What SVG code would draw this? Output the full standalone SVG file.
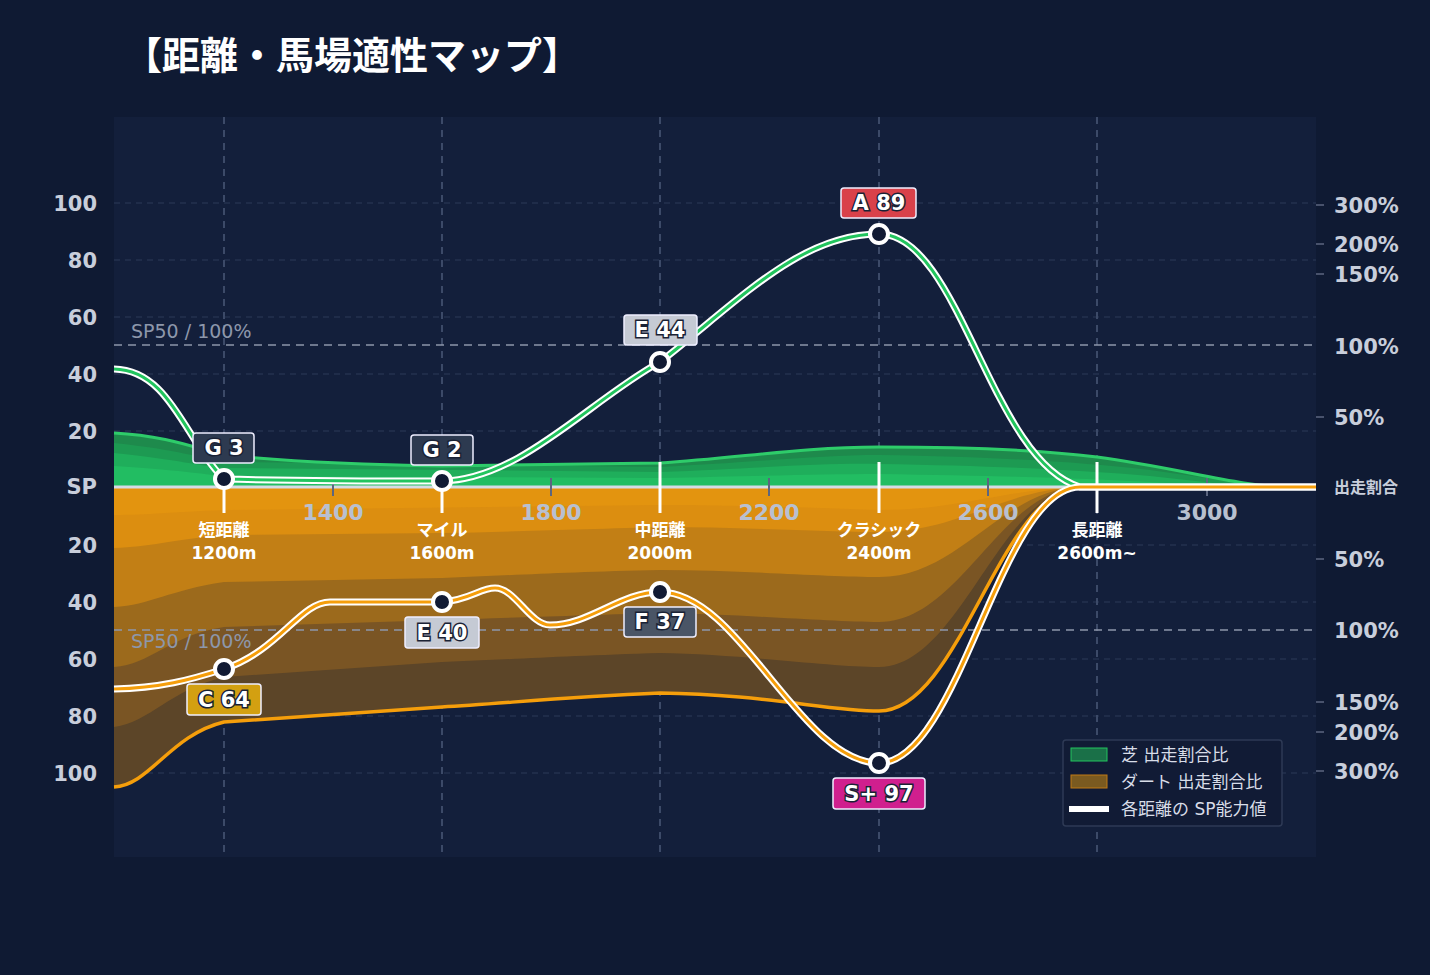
<svg xmlns="http://www.w3.org/2000/svg" width="1430" height="975" viewBox="0 0 1430 975">
<style>
text{font-family:"DejaVu Sans","Noto Sans CJK JP",sans-serif}
.ax{fill:#c8cedb;font-size:21px;font-weight:bold}
.grid{stroke:#2c3a58;stroke-width:1;stroke-dasharray:6 5}
.vg{stroke:#3c4a68;stroke-width:2;stroke-dasharray:7 6}
.cat{fill:#fff;font-size:17px;font-weight:bold;text-anchor:middle}
.bt{font-size:21px;font-weight:bold;fill:#fff;text-anchor:middle;stroke:#1a2235;stroke-width:3;paint-order:stroke}
.bb{stroke:#eef;stroke-width:1.5}
.sp{fill:#8d97ab;font-size:19px}
.lg{fill:#d8dde8;font-size:17px}
.dot{fill:#111a33;stroke:#fff;stroke-width:4}
</style>
<rect width="1430" height="975" fill="#0f1a33"/>
<rect x="114" y="117" width="1202" height="740" fill="#131f3b"/>
<text x="124" y="69" fill="#fff" font-size="38" font-weight="bold" style="font-family:'Noto Sans CJK JP',sans-serif">【距離・馬場適性マップ】</text>
<g id="grid">
<line class="grid" x1="114" y1="203" x2="1316" y2="203"/><line class="grid" x1="114" y1="260" x2="1316" y2="260"/><line class="grid" x1="114" y1="317" x2="1316" y2="317"/><line class="grid" x1="114" y1="374" x2="1316" y2="374"/><line class="grid" x1="114" y1="431" x2="1316" y2="431"/><line class="grid" x1="114" y1="545" x2="1316" y2="545"/><line class="grid" x1="114" y1="602" x2="1316" y2="602"/><line class="grid" x1="114" y1="659" x2="1316" y2="659"/><line class="grid" x1="114" y1="716" x2="1316" y2="716"/><line class="grid" x1="114" y1="773" x2="1316" y2="773"/>
<line class="vg" x1="224" y1="117" x2="224" y2="857"/><line class="vg" x1="442" y1="117" x2="442" y2="857"/><line class="vg" x1="660" y1="117" x2="660" y2="857"/><line class="vg" x1="879" y1="117" x2="879" y2="857"/><line class="vg" x1="1097" y1="117" x2="1097" y2="857"/>
</g>
<g id="turf">
<path d="M114,487 L114,433 C170,436 200,450 224,455 C300,463 380,465 442,466 L660,463 C740,458 800,447 879,447 C960,447 1040,450 1097,457 C1180,468 1240,487 1290,487 L1316,487 Z" fill="#1e8a4c"/>
<path d="M114,487 L114,443 C180,450 200,458 224,462 L660,467 C760,462 820,455 879,455 C1000,457 1080,462 1150,470 L1270,487 Z" fill="#1d9a52"/>
<path d="M114,487 L114,453 C180,460 200,466 224,468 L660,472 C760,468 820,463 879,464 C1000,466 1080,470 1150,476 L1250,487 Z" fill="#1fae5b"/>
<path d="M114,487 L114,466 C180,470 200,474 224,476 L660,478 C760,476 820,474 879,474 C1000,476 1080,478 1150,482 L1230,487 Z" fill="#22bd62"/>
<path d="M114,433 C170,436 200,450 224,455 C300,463 380,465 442,466 L660,463 C740,458 800,447 879,447 C960,447 1040,450 1097,457 C1180,468 1240,487 1290,487 L1316,487" fill="none" stroke="#2ecc6a" stroke-width="3"/>
</g>
<g id="dirt">
<path d="M114,487 L1080,487 C1000,490 960,711 879,711 C830,711 760,694 660,693 C560,697 500,704 442,707 L224,722 C170,735 150,785 114,787 Z" fill="#5c4528"/>
<path d="M114,487 L1080,487 C1000,490 960,667 879,667 C830,667 740,654 660,653 C560,656 500,660 442,662 L224,677 C170,690 150,722 114,727 Z" fill="#7a5524"/>
<path d="M114,487 L1080,487 C1000,490 960,622 879,622 C830,622 740,614 660,613 C560,616 500,618 442,620 L224,627 C170,635 150,665 114,667 Z" fill="#9c6a1c"/>
<path d="M114,487 L1080,487 C1000,490 960,577 879,577 C830,577 740,570 660,570 C560,572 500,576 442,578 L224,582 C170,590 150,605 114,607 Z" fill="#c27f15"/>
<path d="M114,487 L1080,487 C1000,490 960,532 879,532 C830,532 740,527 660,527 C560,530 500,532 442,533 L224,535 C170,540 150,547 114,548 Z" fill="#dc8e10"/>
<path d="M114,487 L1080,487 C1000,490 960,510 879,510 C800,507 700,505 660,505 L224,510 C170,512 150,515 114,515 Z" fill="#e8970f" opacity="0.6"/>
<path d="M114,787 C150,785 170,735 224,722 L442,707 C500,704 560,697 660,693 C760,694 830,711 879,711 C960,711 1000,490 1080,487 L1316,487" fill="none" stroke="#f59e0b" stroke-width="3.5"/>
</g>
<line x1="114" y1="487" x2="1316" y2="487" stroke="#d5dbe5" stroke-width="3"/>
<g id="ticks" stroke="#5c6680" stroke-width="2">
<line x1="333" y1="478" x2="333" y2="496"/><line x1="551" y1="478" x2="551" y2="496"/><line x1="769" y1="478" x2="769" y2="496"/><line x1="988" y1="478" x2="988" y2="496"/><line x1="1207" y1="478" x2="1207" y2="496"/>
</g>
<g id="sp50" stroke="#8d97ab" stroke-width="1.5" stroke-dasharray="8 6">
<line x1="114" y1="345" x2="1316" y2="345"/><line x1="114" y1="630" x2="1316" y2="630"/>
</g>
<text class="sp" x="131" y="338">SP50 / 100%</text>
<text class="sp" x="131" y="648">SP50 / 100%</text>
<g id="axes" class="ax">
<g text-anchor="end"><text x="97" y="211">100</text><text x="97" y="268">80</text><text x="97" y="325">60</text><text x="97" y="382">40</text><text x="97" y="439">20</text><text x="97" y="494">SP</text><text x="97" y="553">20</text><text x="97" y="610">40</text><text x="97" y="667">60</text><text x="97" y="724">80</text><text x="97" y="781">100</text></g>
<g text-anchor="middle" font-size="22" fill="#b8c0d0"><text x="333" y="520">1400</text><text x="551" y="520">1800</text><text x="769" y="520">2200</text><text x="988" y="520">2600</text><text x="1207" y="520">3000</text></g>
<text x="1334" y="213">300%</text><text x="1334" y="252">200%</text><text x="1334" y="282">150%</text><text x="1334" y="354">100%</text><text x="1334" y="425">50%</text><text x="1334" y="493" font-size="16">出走割合</text><text x="1334" y="567">50%</text><text x="1334" y="638">100%</text><text x="1334" y="710">150%</text><text x="1334" y="740">200%</text><text x="1334" y="779">300%</text>
<g stroke="#5c6680" stroke-width="1.5"><line x1="1316" y1="205" x2="1324" y2="205"/><line x1="1316" y1="244" x2="1324" y2="244"/><line x1="1316" y1="274" x2="1324" y2="274"/><line x1="1316" y1="417" x2="1324" y2="417"/><line x1="1316" y1="559" x2="1324" y2="559"/><line x1="1316" y1="702" x2="1324" y2="702"/><line x1="1316" y1="732" x2="1324" y2="732"/><line x1="1316" y1="771" x2="1324" y2="771"/></g>
</g>
<g id="markers" stroke="#fff" stroke-width="3">
<line x1="224" y1="479" x2="224" y2="513"/><line x1="442" y1="481" x2="442" y2="513"/><line x1="660" y1="462" x2="660" y2="513"/><line x1="879" y1="462" x2="879" y2="513"/><line x1="1097" y1="462" x2="1097" y2="513"/>
</g>
<g id="cats" class="cat">
<text x="224" y="536">短距離</text><text x="224" y="559">1200m</text>
<text x="442" y="536">マイル</text><text x="442" y="559">1600m</text>
<text x="660" y="536">中距離</text><text x="660" y="559">2000m</text>
<text x="879" y="536">クラシック</text><text x="879" y="559">2400m</text>
<text x="1097" y="536">長距離</text><text x="1097" y="559">2600m~</text>
</g>
<g id="connectors" fill="none">
<path d="M114,369 C170,370 185,440 224,479 C300,481 380,481 442,481 C520,480 590,400 660,362 C740,300 800,234 879,234 C960,234 990,460 1080,487 L1316,487" stroke="#fff" stroke-width="7"/>
<path d="M114,369 C170,370 185,440 224,479 C300,481 380,481 442,481 C520,480 590,400 660,362 C740,300 800,234 879,234 C960,234 990,460 1080,487 L1316,487" stroke="#22c55e" stroke-width="3"/>
<path d="M114,689 C160,688 190,680 224,669 C280,650 300,602 330,602 L442,602 C470,600 480,588 495,588 C515,588 530,625 550,625 C590,625 620,592 660,592 C740,592 800,763 879,763 C960,763 1000,487 1080,487 L1316,487" stroke="#fff" stroke-width="7"/>
<path d="M114,689 C160,688 190,680 224,669 C280,650 300,602 330,602 L442,602 C470,600 480,588 495,588 C515,588 530,625 550,625 C590,625 620,592 660,592 C740,592 800,763 879,763 C960,763 1000,487 1080,487 L1316,487" stroke="#f59e0b" stroke-width="3"/>
</g>
<g id="dots">
<circle class="dot" cx="224" cy="479" r="9"/><circle class="dot" cx="442" cy="481" r="9"/><circle class="dot" cx="660" cy="362" r="9"/><circle class="dot" cx="879" cy="234" r="9"/>
<circle class="dot" cx="224" cy="669" r="9"/><circle class="dot" cx="442" cy="602" r="9"/><circle class="dot" cx="660" cy="592" r="9"/><circle class="dot" cx="879" cy="763" r="9"/>
</g>
<g id="b-g3"><rect class="bb" x="193" y="433" width="61" height="30" rx="3" fill="#2d3a50"/><text class="bt" x="224" y="455">G 3</text></g>
<g id="b-g2"><rect class="bb" x="411" y="435" width="62" height="30" rx="3" fill="#2d3a50"/><text class="bt" x="442" y="457">G 2</text></g>
<g id="b-e44"><rect class="bb" x="624" y="315" width="73" height="30" rx="3" fill="#c5cad4"/><text class="bt" x="660" y="337">E 44</text></g>
<g id="b-a89"><rect class="bb" x="841" y="188" width="75" height="30" rx="3" fill="#d9414a"/><text class="bt" x="879" y="210">A 89</text></g>
<g id="b-e40"><rect class="bb" x="405" y="617" width="74" height="31" rx="3" fill="#c5cad4"/><text class="bt" x="442" y="640">E 40</text></g>
<g id="b-c64"><rect class="bb" x="187" y="684" width="74" height="31" rx="3" fill="#d3a011"/><text class="bt" x="224" y="707">C 64</text></g>
<g id="b-f37"><rect class="bb" x="624" y="607" width="72" height="30" rx="3" fill="#4a5566"/><text class="bt" x="660" y="629">F 37</text></g>
<g id="b-s97"><rect class="bb" x="833" y="778" width="92" height="31" rx="3" fill="#d01f8e"/><text class="bt" x="879" y="801">S+ 97</text></g>
<g id="legend">
<rect x="1063" y="740" width="219" height="86" rx="3" fill="#111b35" stroke="#2e3a55" stroke-width="1.5"/>
<rect x="1071" y="748" width="36" height="13" fill="#1a7048" stroke="#22c55e"/><text class="lg" x="1121" y="761">芝 出走割合比</text>
<rect x="1071" y="775" width="36" height="13" fill="#7a5a20" stroke="#c07a15"/><text class="lg" x="1121" y="788">ダート 出走割合比</text>
<rect x="1069" y="806" width="40" height="6" fill="#fff"/><text class="lg" x="1121" y="815">各距離の SP能力値</text>
</g>
</svg>
